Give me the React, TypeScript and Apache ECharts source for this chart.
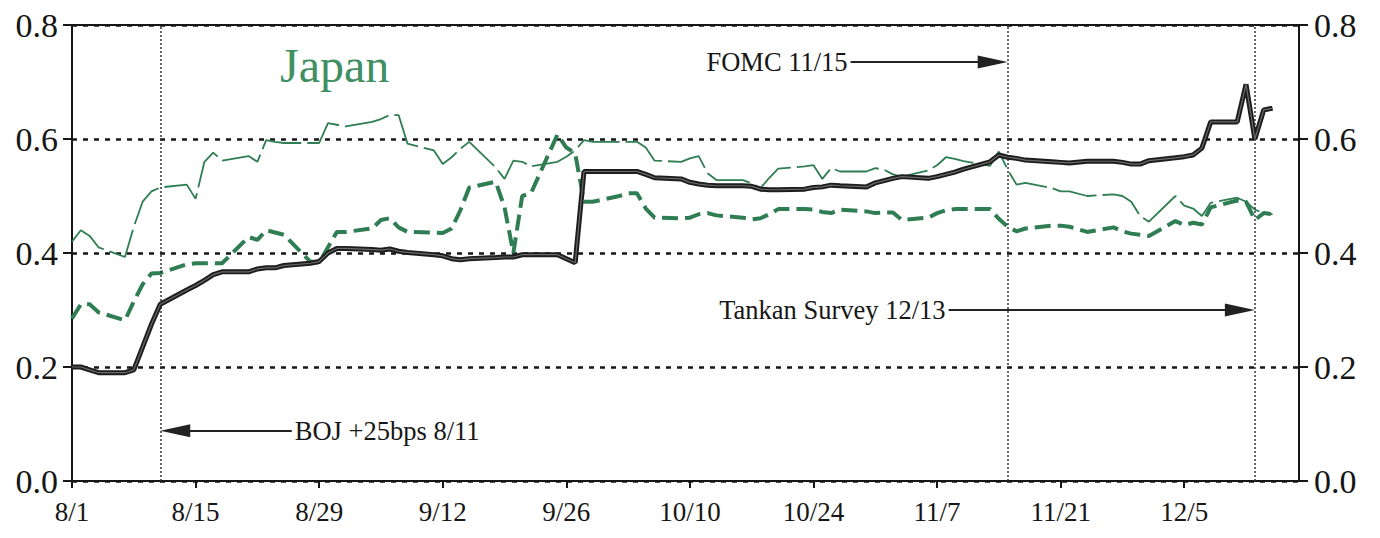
import React, { useEffect, useRef } from "react";
import * as echarts from "echarts";

// Business days, Aug 1 – Dec 15 (2000)
const dates = [
  "8/1", "8/2", "8/3", "8/4", "8/7", "8/8", "8/9", "8/10", "8/11", "8/14", "8/15", "8/16", "8/17", "8/18", "8/21", "8/22", "8/23", "8/24", "8/25", "8/28", "8/29", "8/30", "8/31",
  "9/1", "9/4", "9/5", "9/6", "9/7", "9/8", "9/11", "9/12", "9/13", "9/14", "9/15", "9/18", "9/19", "9/20", "9/21", "9/22", "9/25", "9/26", "9/27", "9/28", "9/29",
  "10/2", "10/3", "10/4", "10/5", "10/6", "10/9", "10/10", "10/11", "10/12", "10/13", "10/16", "10/17", "10/18", "10/19", "10/20", "10/23", "10/24", "10/25", "10/26", "10/27", "10/30", "10/31",
  "11/1", "11/2", "11/3", "11/6", "11/7", "11/8", "11/9", "11/10", "11/13", "11/14", "11/15", "11/16", "11/17", "11/20", "11/21", "11/22", "11/24", "11/27", "11/28", "11/29", "11/30",
  "12/1", "12/4", "12/5", "12/6", "12/7", "12/8", "12/11", "12/12", "12/13", "12/14", "12/15",
];

const blackValues = [
  0.200, 0.200, 0.195, 0.190, 0.190, 0.195, 0.235, 0.275, 0.310, 0.335, 0.343, 0.352, 0.362, 0.367, 0.367, 0.372, 0.374, 0.374, 0.378, 0.382, 0.385, 0.400, 0.408,
  0.408, 0.406, 0.405, 0.407, 0.403, 0.401, 0.397, 0.395, 0.390, 0.388, 0.390, 0.392, 0.393, 0.393, 0.397, 0.397, 0.397, 0.390, 0.383, 0.543, 0.543,
  0.543, 0.543, 0.543, 0.538, 0.532, 0.530, 0.524, 0.521, 0.519, 0.518, 0.518, 0.517, 0.512, 0.511, 0.511, 0.512, 0.515, 0.516, 0.519, 0.518, 0.516, 0.523,
  0.527, 0.531, 0.534, 0.531, 0.534, 0.538, 0.542, 0.547, 0.560, 0.572, 0.568, 0.566, 0.563, 0.560, 0.559, 0.558, 0.561, 0.561, 0.559, 0.556, 0.556,
  0.562, 0.567, 0.569, 0.572, 0.584, 0.630, 0.630, 0.696, 0.600, 0.651, 0.654,
];

const greenThinValues = [
  0.420, 0.440, 0.430, 0.410, 0.393, 0.446, 0.490, 0.508, 0.515, 0.520, 0.495, 0.560, 0.576, 0.562, 0.570, 0.560, 0.598, 0.595, 0.593, 0.593, 0.593, 0.628, 0.625,
  0.622, 0.630, 0.635, 0.642, 0.642, 0.592, 0.580, 0.556, 0.568, 0.583, 0.595, 0.550, 0.530, 0.562, 0.560, 0.552, 0.560, 0.569, 0.580, 0.598, 0.595,
  0.595, 0.595, 0.595, 0.585, 0.562, 0.560, 0.566, 0.570, 0.540, 0.528, 0.528, 0.522, 0.514, 0.532, 0.548, 0.552, 0.554, 0.530, 0.549, 0.543, 0.543, 0.549,
  0.546, 0.538, 0.534, 0.545, 0.554, 0.568, 0.565, 0.561, 0.553, 0.578, 0.546, 0.520, 0.523, 0.514, 0.508, 0.508, 0.500, 0.503, 0.500, 0.490, 0.465,
  0.455, 0.500, 0.483, 0.478, 0.465, 0.488, 0.497, 0.490, 0.476, 0.470, 0.468,
];

const greenThickValues = [
  0.285, 0.310, 0.310, 0.296, 0.282, 0.315, 0.345, 0.364, 0.365, 0.380, 0.382, 0.382, 0.382, 0.382, 0.428, 0.423, 0.440, 0.436, 0.432, 0.385, 0.383, 0.410, 0.437,
  0.437, 0.443, 0.458, 0.461, 0.445, 0.437, 0.436, 0.435, 0.443, 0.475, 0.515, 0.525, 0.480, 0.400, 0.500, 0.505, 0.608, 0.585, 0.575, 0.490, 0.490,
  0.500, 0.505, 0.505, 0.478, 0.462, 0.461, 0.462, 0.468, 0.470, 0.466, 0.462, 0.459, 0.461, 0.468, 0.477, 0.477, 0.476, 0.472, 0.470, 0.476, 0.473, 0.470,
  0.471, 0.471, 0.458, 0.462, 0.470, 0.475, 0.477, 0.477, 0.477, 0.460, 0.446, 0.438, 0.443, 0.448, 0.448, 0.446, 0.437, 0.445, 0.438, 0.434, 0.432,
  0.430, 0.456, 0.449, 0.453, 0.450, 0.480, 0.492, 0.490, 0.458, 0.470, 0.468,
];

const eventDates = ["8/11", "11/15", "12/13"];
const eventLabels = ["BOJ +25bps 8/11", "FOMC 11/15", "Tankan Survey 12/13"];
const chartTitle = "Japan";

const BASE = Date.UTC(2000, 7, 1);
function dayOf(s: string): number {
  const [m, d] = s.split("/").map(Number);
  return Math.round((Date.UTC(2000, m - 1, d) - BASE) / 86400000);
}
function labelOf(day: number): string {
  const dt = new Date(BASE + Math.round(day) * 86400000);
  return `${dt.getUTCMonth() + 1}/${dt.getUTCDate()}`;
}

const SERIF = '"Liberation Serif", "Times New Roman", serif';
const GREEN = "#2f7d52";
const INK = "#161616";

export default function App() {
  const ref = useRef<HTMLDivElement>(null);
  useEffect(() => {
    if (!ref.current) return;
    const chart = echarts.init(ref.current, undefined, { renderer: "svg" });
    const pts = (vals: number[]) => dates.map((d, i) => [dayOf(d), vals[i]]);
    const arrowLabel = (text: string) => ({
      show: true,
      position: "start",
      formatter: text,
      fontFamily: SERIF,
      fontSize: 26.5,
      color: INK,
      distance: 3,
    });
    const arrowStyle = { type: "solid", color: "#222", width: 2 };
    const head = { symbol: "triangle", symbolSize: [13, 30] };
    const HALF = 1.7; // half arrowhead length in days, so the tip meets the event line

    const option: any = {
      animation: false,
      backgroundColor: "#ffffff",
      textStyle: { fontFamily: SERIF },
      grid: {
        left: 72,
        right: 81,
        top: 25,
        bottom: 57,
        show: true,
        borderColor: INK,
        borderWidth: 2,
        backgroundColor: "transparent",
      },
      xAxis: {
        type: "value",
        min: 0,
        max: 139,
        interval: 14,
        axisLine: { show: true, lineStyle: { color: INK, width: 2 } },
        axisTick: { show: true, length: 7, lineStyle: { color: INK, width: 2 } },
        axisLabel: {
          formatter: (v: number) => labelOf(v),
          fontFamily: SERIF,
          fontSize: 27,
          color: INK,
          margin: 17,
          showMaxLabel: false,
        },
        splitLine: { show: false },
      },
      yAxis: [
        {
          type: "value",
          position: "left",
          min: 0,
          max: 0.8,
          interval: 0.2,
          axisLine: { show: true, lineStyle: { color: INK, width: 2 } },
          axisTick: { show: true, length: 9, lineStyle: { color: INK, width: 2 } },
          axisLabel: {
            formatter: (v: number) => v.toFixed(1),
            fontFamily: SERIF,
            fontSize: 34,
            color: INK,
            margin: 14,
          },
          splitLine: { show: true, lineStyle: { type: [5, 6], color: INK, width: 2.5 } },
        },
        {
          type: "value",
          position: "right",
          min: 0,
          max: 0.8,
          interval: 0.2,
          axisLine: { show: true, lineStyle: { color: INK, width: 2 } },
          axisTick: { show: true, length: 9, lineStyle: { color: INK, width: 2 } },
          axisLabel: {
            formatter: (v: number) => v.toFixed(1),
            fontFamily: SERIF,
            fontSize: 34,
            color: INK,
            margin: 15,
          },
          splitLine: { show: false },
        },
      ],
      series: [
        {
          name: "Green (thick dashed)",
          type: "line",
          data: pts(greenThickValues),
          showSymbol: false,
          lineStyle: { color: GREEN, width: 4, type: [16, 7] },
          z: 3,
        },
        {
          name: "Green (thin)",
          type: "line",
          data: pts(greenThinValues),
          showSymbol: false,
          lineStyle: { color: GREEN, width: 1.8, type: [45, 6] },
          z: 4,
        },
        {
          name: "Black",
          type: "line",
          data: pts(blackValues),
          showSymbol: false,
          lineStyle: { color: "#1d1d1d", width: 5 },
          z: 5,
          markLine: {
            silent: true,
            animation: false,
            symbol: "none",
            label: { show: false },
            data: [
              ...eventDates.map((d) => ({
                xAxis: dayOf(d),
                lineStyle: { type: [2, 2], color: "#333", width: 1.5 },
                label: { show: false },
              })),
              [
                { coord: [24.9, 0.088], symbol: "none", label: arrowLabel(eventLabels[0]), lineStyle: arrowStyle },
                { coord: [dayOf("8/11") + HALF, 0.088], ...head },
              ],
              [
                { coord: [88.2, 0.735], symbol: "none", label: arrowLabel(eventLabels[1]), lineStyle: arrowStyle },
                { coord: [dayOf("11/15") - HALF, 0.735], ...head },
              ],
              [
                { coord: [99.3, 0.3], symbol: "none", label: arrowLabel(eventLabels[2]), lineStyle: arrowStyle },
                { coord: [dayOf("12/13") - HALF, 0.3], ...head },
              ],
            ],
          },
        },
        {
          name: "Black (core)",
          type: "line",
          data: pts(blackValues),
          showSymbol: false,
          lineStyle: { color: "#6a6a6a", width: 1.2 },
          z: 6,
        },
      ],
      graphic: [
        {
          type: "text",
          left: 280,
          top: 41,
          style: {
            text: chartTitle,
            fontFamily: SERIF,
            fontSize: 48,
            fill: "#3f8f62",
          },
        },
      ],
    };
    chart.setOption(option);
    return () => chart.dispose();
  }, []);
  return (
    <div
      ref={ref}
      style={{ position: "fixed", left: 0, top: 0, width: 1380, height: 538, background: "#fff" }}
    />
  );
}
